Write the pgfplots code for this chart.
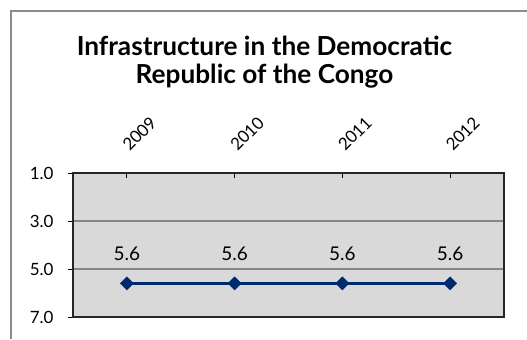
\documentclass[border=0pt]{standalone}
\usepackage{fontspec}
\setmainfont{Lato}
\usepackage{pgfplots}
\pgfplotsset{compat=1.18}
\definecolor{navy}{HTML}{002A6E}
\definecolor{plotbg}{HTML}{D9D9D9}
\definecolor{gridc}{HTML}{868686}
\definecolor{framec}{HTML}{8C8C8C}
\begin{document}
\begin{tikzpicture}[x=1bp,y=1bp]
\useasboundingbox (0,0) rectangle (527,339);
\draw[color=framec, line width=1.2bp] (11,0) -- (11,328) -- (527,328);
\node[font=\bfseries\fontsize{26.3}{28}\selectfont, align=center, anchor=base] at (264.5,256) {Infrastructure in the Democratic\\Republic of the Congo};
\begin{axis}[
  at={(73bp,22bp)}, anchor=south west, scale only axis,
  width=431bp, height=144bp,
  xmin=-0.5, xmax=3.5, ymin=1, ymax=7, y dir=reverse,
  axis background/.style={fill=plotbg},
  axis line style={black!85, line width=1.1bp},
  xtick={0,1,2,3}, xticklabels={2009,2010,2011,2012},
  xticklabel pos=upper, xtick pos=upper,
  xtick align=inside,
  ytick={1,3,5,7}, ytick pos=left, ytick align=outside,
  major tick length=5bp,
  tick style={black, line width=0.8bp},
  ymajorgrids, grid style={gridc, line width=1.1bp},
  /pgf/number format/fixed, /pgf/number format/precision=1,
  /pgf/number format/fixed zerofill, /pgf/number format/assume math mode=true,
  yticklabel style={font=\fontsize{17}{20}\selectfont, xshift=-11bp},
  xticklabel style={font=\fontsize{17}{20}\selectfont, anchor=south west, xshift=3bp, yshift=16bp, rotate=45},
  nodes near coords,
  every node near coord/.append style={font=\fontsize{19}{22}\selectfont, text=black, anchor=south, yshift=19bp},
  clip=false,
]
\addplot[navy, line width=3bp, mark=square*, mark size=4.7bp, mark options={fill=navy, draw=navy, line width=0.3bp, rotate=45}]
  coordinates {(0,5.6) (1,5.6) (2,5.6) (3,5.6)};
\end{axis}
\end{tikzpicture}
\end{document}
